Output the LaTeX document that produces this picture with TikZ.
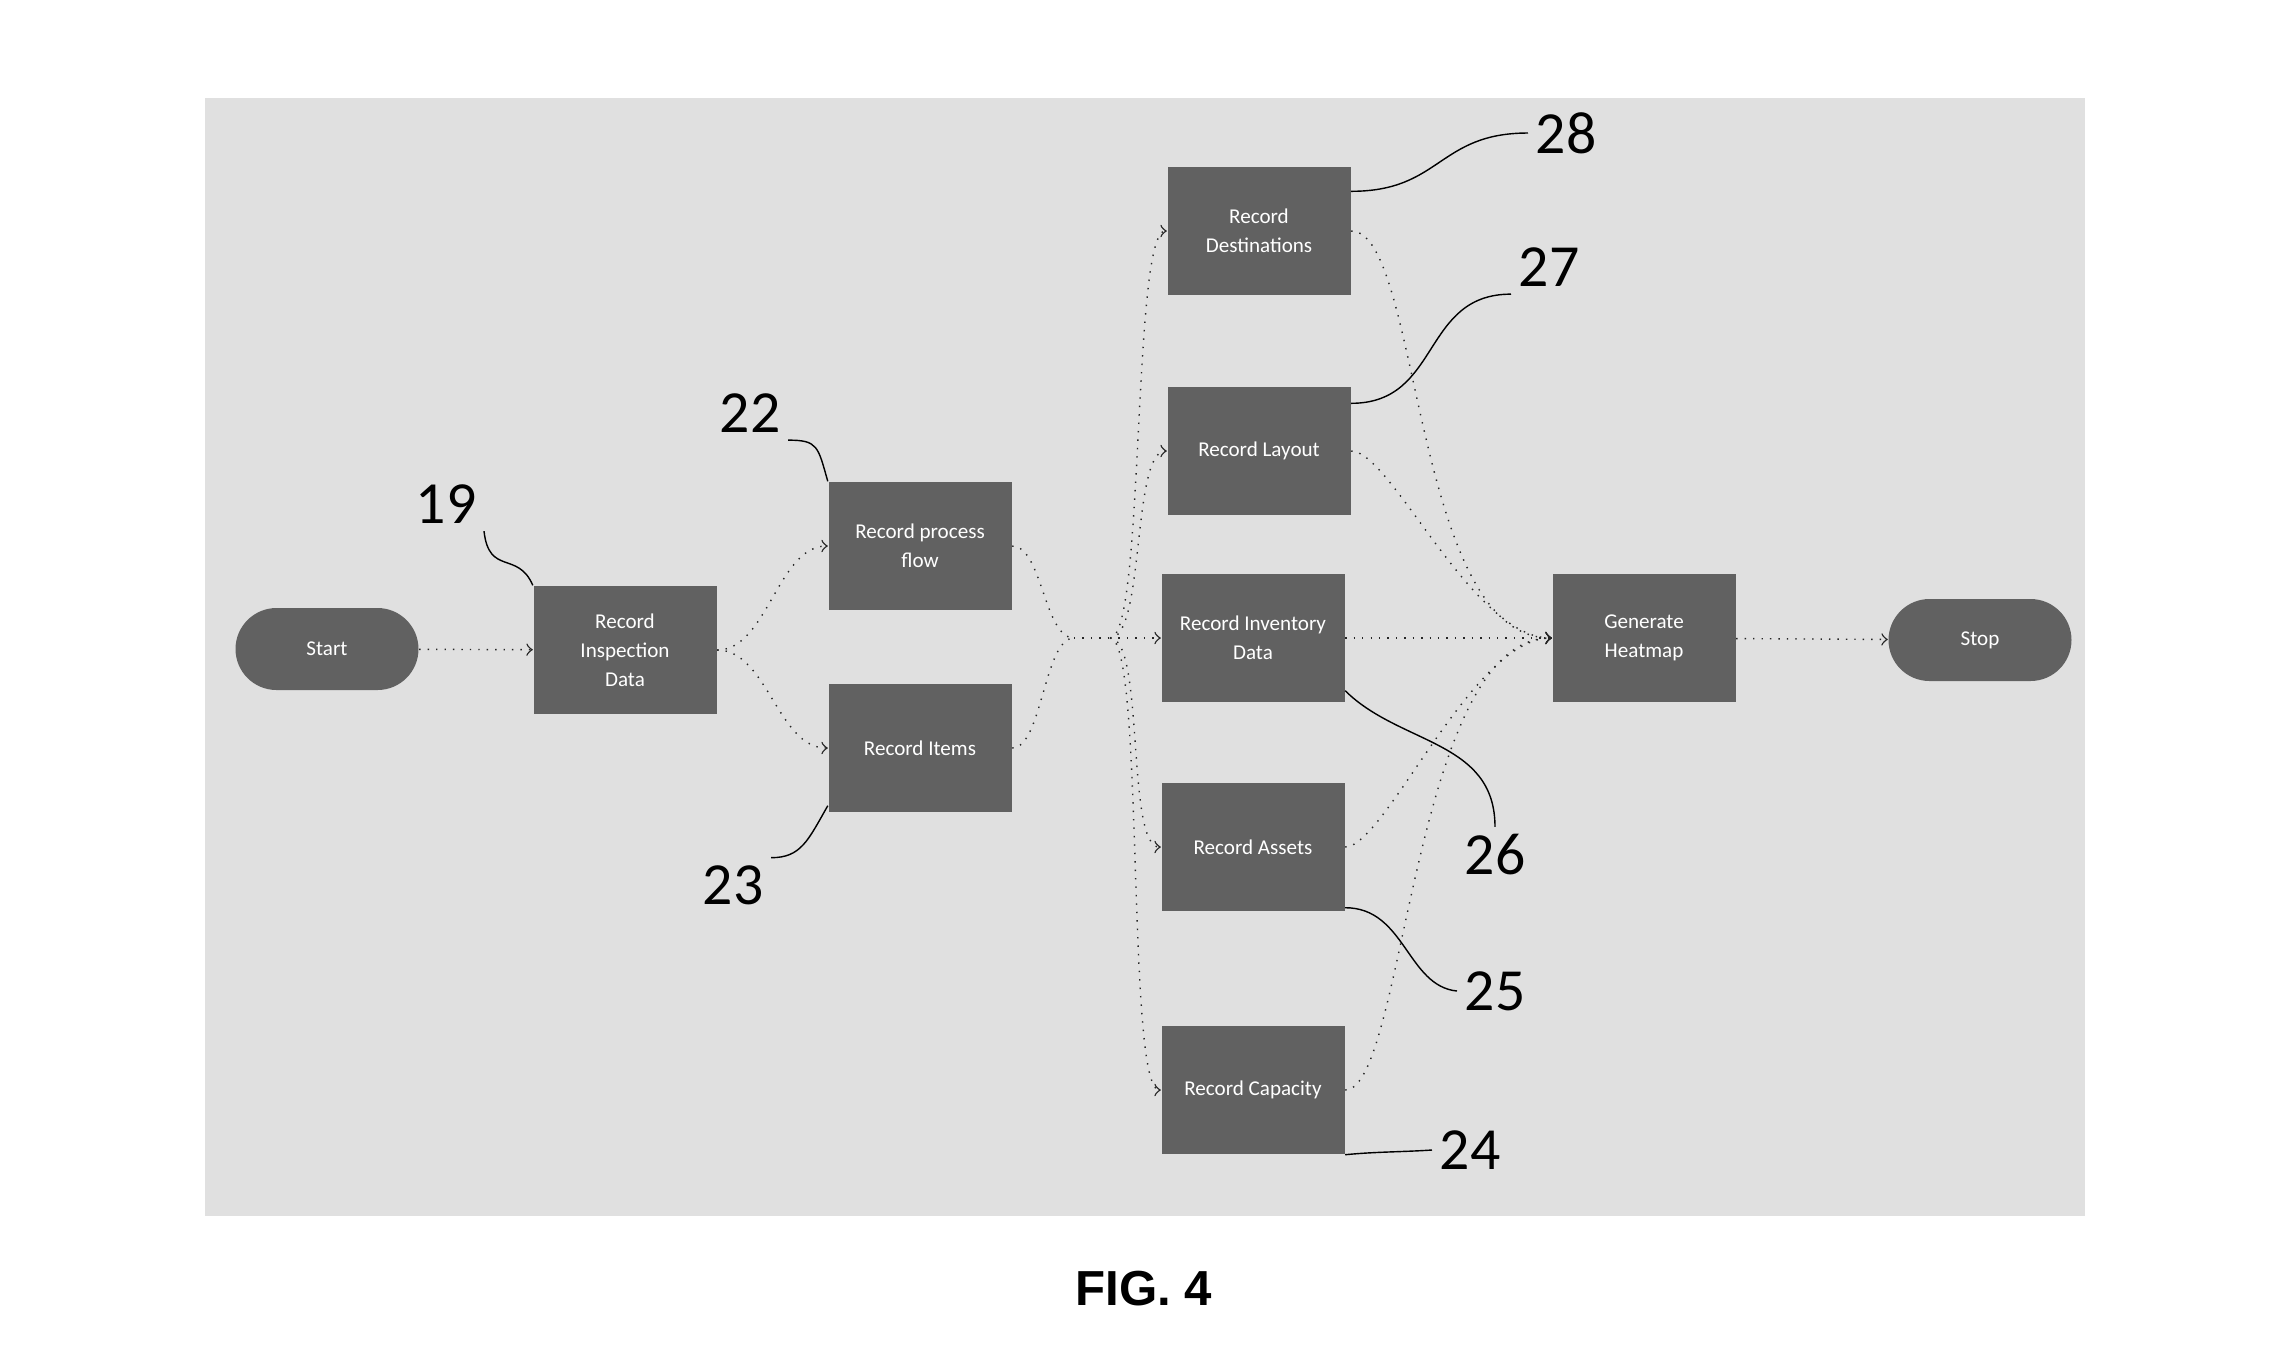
\documentclass[tikz,border=0pt]{standalone}
\usepackage{fontspec}
\setsansfont{Carlito}
\newfontfamily\figfont{Liberation Sans}
\usetikzlibrary{positioning}

\tikzset{
  stepbox/.style={rectangle, fill=black!62, text=white, align=center,
    minimum width=1.83cm, minimum height=1.28cm, inner sep=1pt,
    font=\sffamily\fontsize{6}{8.2}\selectfont},
  terminal/.style={stepbox, rounded corners=0.41cm, minimum height=0.82cm},
  flow/.style={->, dotted, black!85},
  lead/.style={black, thin},
  refnum/.style={font=\sffamily\fontsize{17}{19}\selectfont, inner sep=2pt}
}

\begin{document}
\begin{tikzpicture}
            \useasboundingbox (0,0) rectangle (22.91,-13.61);
            \fill[black!12] (2.05,-0.98) rectangle (20.85,-12.16);

            % flow steps
            \node[terminal] (start) at (3.27,-6.49) {Start};
            \node[stepbox] (b19) at (6.25,-6.50) {Record\\Inspection\\Data};
            \node[stepbox] (b22) at (9.20,-5.46) {Record process\\flow};
            \node[stepbox] (b23) at (9.20,-7.48) {Record Items};
            \node[stepbox] (b28) at (12.59,-2.31) {Record\\Destinations};
            \node[stepbox] (b27) at (12.59,-4.51) {Record Layout};
            \node[stepbox] (b26) at (12.53,-6.38) {Record Inventory\\Data};
            \node[stepbox] (b25) at (12.53,-8.47) {Record Assets};
            \node[stepbox] (b24) at (12.53,-10.90) {Record Capacity};
            \node[stepbox] (gen) at (16.44,-6.38) {Generate\\Heatmap};
            \node[terminal] (stop) at (19.80,-6.40) {Stop};

            \coordinate (hub) at (10.74,-6.38);
            \coordinate (fan) at (11.10,-6.38);

            \draw[flow] (start) -- (b19);
            \draw[flow] (b19.east) .. controls +(0.5,0) and +(-0.5,0) .. (b22.west);
            \draw[flow] (b19.east) .. controls +(0.5,0) and +(-0.5,0) .. (b23.west);
            \draw[flow, -] (b22.east) .. controls +(0.3,0) and +(-0.3,0) .. (hub);
            \draw[flow, -] (b23.east) .. controls +(0.3,0) and +(-0.3,0) .. (hub);
            \draw[flow, -] (hub) -- (fan);
            \foreach \b in {b28,b27,b25,b24}
              \draw[flow] (fan) .. controls +(0.35,0) and +(-0.35,0) .. (\b.west);
            \draw[flow] (fan) -- (b26.west);
            \draw[flow] (b28.east) .. controls +(0.7,0) and +(-1.4,0) .. (gen.west);
            \draw[flow] (b27.east) .. controls +(0.4,0) and +(-0.8,0) .. (gen.west);
            \draw[flow] (b25.east) .. controls +(0.4,0) and +(-0.8,0) .. (gen.west);
            \draw[flow] (b24.east) .. controls +(0.6,0) and +(-1.4,0) .. (gen.west);
            \draw[flow] (b26.east) -- (gen.west);
            \draw[flow] (gen) -- (stop);

            % reference numbers
            \node[refnum] (l19) at (4.46,-5.04) {19};
            \node[refnum] (l22) at (7.50,-4.13) {22};
            \node[refnum] (l23) at (7.33,-8.85) {23};
            \node[refnum] (l28) at (15.66,-1.33) {28};
            \node[refnum] (l27) at (15.49,-2.67) {27};
            \node[refnum] (l26) at (14.95,-8.55) {26};
            \node[refnum] (l25) at (14.95,-9.91) {25};
            \node[refnum] (l24) at (14.70,-11.50) {24};

            \draw[lead] (l19.south east) .. controls +(0.05,-0.45) and +(-0.15,0.35) .. (b19.north west);
            \draw[lead] (l22.south east) .. controls +(0.3,0) and +(-0.1,0.35) .. (b22.north west);
            \draw[lead] (l23.north east) .. controls +(0.3,0) and +(-0.2,-0.35) .. ([yshift=0.07cm]b23.south west);
            \draw[lead] (l28.west) .. controls +(-0.9,0) and +(0.9,0) .. ([yshift=-0.25cm]b28.north east);
            \draw[lead] (l27.south west) .. controls +(-0.9,0) and +(0.9,0) .. ([yshift=-0.17cm]b27.north east);
            \draw[lead] ([yshift=0.12cm]b26.south east) .. controls (14.0,-7.45) and (14.95,-7.40) .. (l26.north);
            \draw[lead] ([yshift=0.04cm]b25.south east) .. controls +(0.6,0) and +(-0.5,0.05) .. (l25.west);
            \draw[lead] (b24.south east) .. controls +(0.3,0.03) and +(-0.3,-0.02) .. (l24.west);

            \node[font=\figfont\bfseries\fontsize{14}{16}\selectfont] (fig) at (11.44,-12.89) {FIG. 4};
\end{tikzpicture}
\end{document}
